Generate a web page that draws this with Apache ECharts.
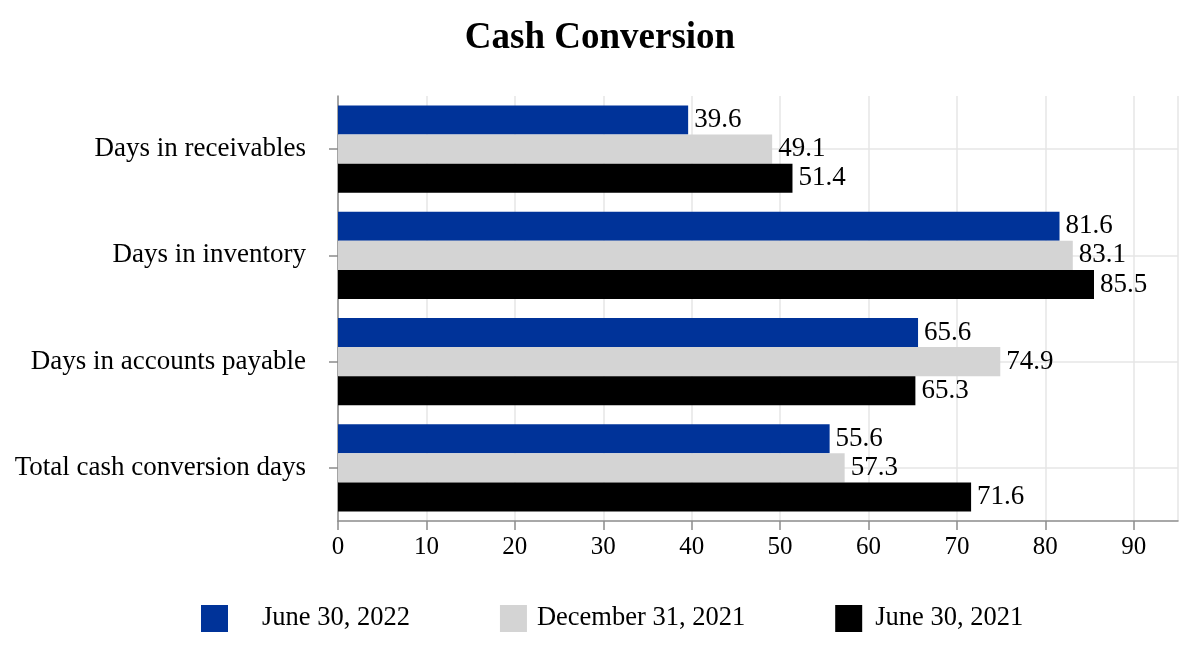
<!DOCTYPE html>
<html>
<head>
<meta charset="utf-8">
<script src="https://cdn.jsdelivr.net/npm/echarts@6/dist/echarts.min.js"></script>
<style>
html,body{margin:0;padding:0;background:#fff;}
#chart{width:1200px;height:666px;}
</style>
</head>
<body>
<div id="chart"></div>
<script>
const categories = ['Days in receivables', 'Days in inventory', 'Days in accounts payable', 'Total cash conversion days'];
const seriesNames = ['June 30, 2022', 'December 31, 2021', 'June 30, 2021'];
const june2022 = [39.6, 81.6, 65.6, 55.6];
const dec2021 = [49.1, 83.1, 74.9, 57.3];
const june2021 = [51.4, 85.5, 65.3, 71.6];
const xTicks = [0, 10, 20, 30, 40, 50, 60, 70, 80, 90];

const FONT = "'Liberation Serif', 'Times New Roman', serif";
const colors = ['#003399', '#d4d4d4', '#000000'];
const values = [june2022, dec2021, june2021];
const legendTextPad = [29, 5, 8];

const chart = echarts.init(document.getElementById('chart'));
chart.setOption({
  animation: false,
  backgroundColor: '#ffffff',
  title: {
    text: 'Cash Conversion',
    left: 'center',
    top: 15,
    textStyle: { fontFamily: FONT, fontSize: 37, fontWeight: 'bold', color: '#000' }
  },
  legend: {
    bottom: 34,
    left: 201,
    padding: 0,
    icon: 'rect',
    itemWidth: 27,
    itemHeight: 27,
    itemGap: 90,
    textStyle: { fontFamily: FONT, fontSize: 26.5, color: '#000' },
    data: seriesNames.map(function (n, i) {
      return { name: n, textStyle: { padding: [0, 0, 0, legendTextPad[i]] } };
    })
  },
  grid: { left: 338, right: 22, top: 96, bottom: 145, containLabel: false },
  xAxis: {
    type: 'value',
    min: 0,
    max: 95,
    interval: 10,
    axisLine: { show: true, lineStyle: { color: '#8c8c8c', width: 1.5 } },
    axisTick: { show: true, length: 9, lineStyle: { color: '#8c8c8c', width: 1.5 } },
    axisLabel: {
      margin: 14,
      fontFamily: FONT, fontSize: 25, color: '#000',
      showMaxLabel: false,
      formatter: function (v) { return xTicks.indexOf(v) >= 0 ? String(v) : ''; }
    },
    splitLine: { show: true, lineStyle: { color: '#e6e6e6', width: 1.5 } }
  },
  yAxis: {
    type: 'category',
    data: categories,
    inverse: true,
    axisLine: { show: true, lineStyle: { color: '#8c8c8c', width: 1.5 } },
    axisTick: { show: true, alignWithLabel: true, length: 9, lineStyle: { color: '#8c8c8c', width: 1.5 } },
    axisLabel: { margin: 32, fontFamily: FONT, fontSize: 27, color: '#000' },
    splitLine: { show: true, alignWithLabel: true, lineStyle: { color: '#e6e6e6', width: 1.5 } }
  },
  series: seriesNames.map(function (name, i) {
    return {
      name: name,
      type: 'bar',
      data: values[i],
      barGap: '0%',
      barCategoryGap: '18%',
      itemStyle: { color: colors[i] },
      label: {
        show: true,
        position: 'right',
        distance: 6,
        fontFamily: FONT,
        fontSize: 27,
        color: '#000',
        formatter: function (p) { return p.value.toFixed(1); }
      }
    };
  })
});
</script>
</body>
</html>
